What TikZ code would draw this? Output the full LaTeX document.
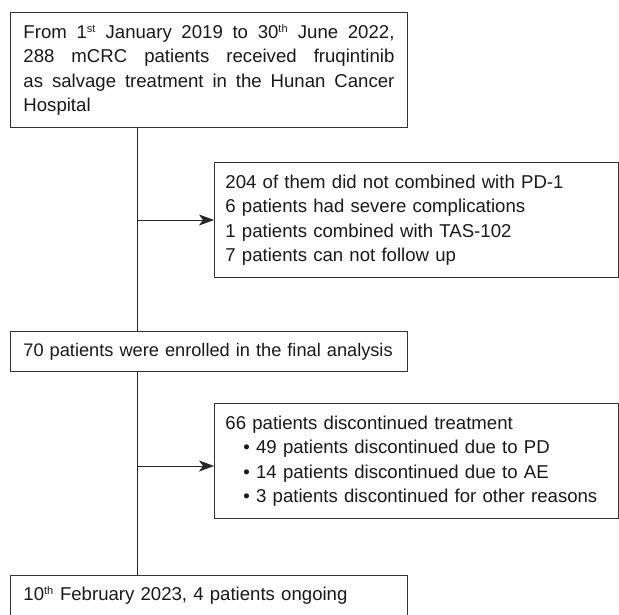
\documentclass[tikz,border=0pt]{standalone}
\usepackage{fontspec}
\setmainfont{Liberation Sans}
\usetikzlibrary{arrows.meta,positioning}

\newcommand{\sups}[1]{\textsuperscript{\fontsize{11}{11}\selectfont #1}}

\begin{document}
\begin{tikzpicture}
[x=1pt,y=-1pt]
\tikzset{
	box/.style = {draw=black!80, line width=0.9pt, anchor=north west, inner ysep=0pt, text=black!90, font=\fontsize{18.6}{24.5}\selectfont},
	mainbox/.style = {box, inner xsep=13pt, text width=371pt, minimum height=40pt},
	sidebox/.style = {box, inner xsep=11pt, text width=382pt, align=left, minimum height=115pt},
	link/.style = {draw=black!85, line width=0.8pt},
	arr/.style = {link, -{Stealth[length=15pt,width=11pt,inset=4pt]}}
}
\useasboundingbox (0,0) rectangle (619,614);

\node(start) [mainbox, align=justify, minimum height=115pt] at (10,12)
	{From 1\sups{st} January 2019 to 30\sups{th} June 2022,\linebreak
	288 mCRC patients received fruqintinib\linebreak
	as salvage treatment in the Hunan Cancer\linebreak
	Hospital};

\node(excl1) [sidebox] at (214,162)
	{\rule{0pt}{4pt}204 of them did not combined with PD-1\\
	6 patients had severe complications\\
	1 patients combined with TAS-102\\
	7 patients can not follow up};

\node(enrol) [mainbox, align=left, font=\fontsize{18.2}{24.5}\selectfont] at (10,331)
	{\mbox{70 patients were enrolled in the final analysis}};

\node(excl2) [sidebox] at (214,403)
	{\rule{0pt}{4pt}66 patients discontinued treatment\\
	\hspace*{18pt}\textbullet\ 49 patients discontinued due to PD\\
	\hspace*{18pt}\textbullet\ 14 patients discontinued due to AE\\
	\hspace*{18pt}\textbullet\ 3 patients discontinued for other reasons};

\node(final) [mainbox, align=left] at (10,575)
	{10\sups{th} February 2023, 4 patients ongoing};

\coordinate (a1) at (137,220);
\coordinate (a2) at (137,466);

\draw [link] (start.south -| a1) to (enrol.north -| a1);
\draw [link] (enrol.south -| a2) to (final.north -| a2);
\draw [arr] (a1) to (a1 -| excl1.west);
\draw [arr] (a2) to (a2 -| excl2.west);
\end{tikzpicture}
\end{document}
